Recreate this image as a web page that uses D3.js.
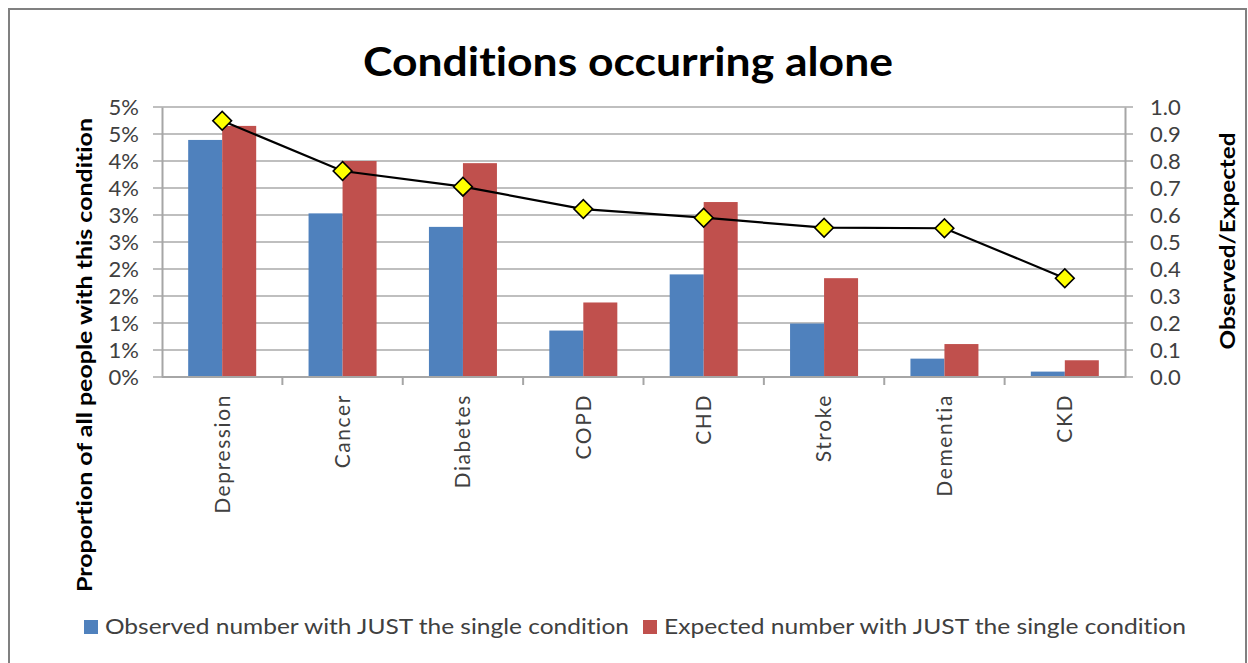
<!DOCTYPE html>
<html>
<head>
<meta charset="utf-8">
<script src="https://cdn.jsdelivr.net/npm/d3@7"></script>
<style>
  body { margin: 0; background: #fff; }
  text { font-family: Lato, "Open Sans", sans-serif; font-variant-ligatures: none; }
</style>
</head>
<body>
<div id="chart"></div>
<script>
// values
const categories = ["Depression", "Cancer", "Diabetes", "COPD", "CHD", "Stroke", "Dementia", "CKD"];
const observed = [4.39, 3.03, 2.78, 0.86, 1.90, 0.99, 0.34, 0.10];   // % of all people
const expected = [4.65, 4.00, 3.96, 1.38, 3.24, 1.83, 0.61, 0.31];
const ratio = [0.949, 0.763, 0.705, 0.622, 0.590, 0.553, 0.551, 0.366]; // observed/expected

const leftTickValues = [0, 0.5, 1, 1.5, 2, 2.5, 3, 3.5, 4, 4.5, 5];
const leftTickLabels = ["0%", "1%", "1%", "2%", "2%", "3%", "3%", "4%", "4%", "5%", "5%"];
const rightTickValues = [0, 0.1, 0.2, 0.3, 0.4, 0.5, 0.6, 0.7, 0.8, 0.9, 1.0];
const rightTickLabels = ["0.0", "0.1", "0.2", "0.3", "0.4", "0.5", "0.6", "0.7", "0.8", "0.9", "1.0"];

const seriesNames = ["Observed number with JUST the single condition", "Expected number with JUST the single condition"];
const seriesColors = ["#4F81BD", "#C0504D"];

const W = 1248, H = 663;
const plot = { left: 162, right: 1125, top: 107, bottom: 377 };

const svg = d3.select("#chart")
  .append("svg")
  .attr("width", W)
  .attr("height", H);

// outer chart frame
svg.append("rect")
  .attr("x", 9).attr("y", 9)
  .attr("width", 1237).attr("height", 700)
  .attr("fill", "#fff")
  .attr("stroke", "#808080")
  .attr("stroke-width", 2);

const x0 = d3.scaleBand().domain(categories).range([plot.left, plot.right]);
const x1 = d3.scaleBand().domain([0, 1]).range([0, x0.bandwidth()]).paddingOuter(0.77);
const y = d3.scaleLinear().domain([0, 5]).range([plot.bottom, plot.top]);
const y2 = d3.scaleLinear().domain([0, 1]).range([plot.bottom, plot.top]);

// gridlines
svg.append("g")
  .selectAll("line")
  .data(leftTickValues)
  .join("line")
  .attr("x1", plot.left - 9).attr("x2", plot.right + 8)
  .attr("y1", d => y(d)).attr("y2", d => y(d))
  .attr("stroke", "#BFBFBF")
  .attr("stroke-width", 2);

// bars
const groups = svg.append("g")
  .selectAll("g")
  .data(categories)
  .join("g")
  .attr("transform", c => `translate(${x0(c)},0)`);

groups.selectAll("rect")
  .data((c, i) => [observed[i], expected[i]])
  .join("rect")
  .attr("x", (d, j) => x1(j))
  .attr("width", x1.bandwidth())
  .attr("y", d => y(d))
  .attr("height", d => y(0) - y(d))
  .attr("fill", (d, j) => seriesColors[j]);

// left axis
const leftAxis = svg.append("g")
  .attr("transform", `translate(${plot.left},0)`)
  .call(d3.axisLeft(y).tickValues(leftTickValues)
    .tickFormat((d, i) => leftTickLabels[i]).tickSize(0).tickPadding(23));
leftAxis.select(".domain").attr("stroke", "#A6A6A6").attr("stroke-width", 2);
leftAxis.selectAll("text").attr("font-size", 22).attr("fill", "#404040");

// right axis
const rightAxis = svg.append("g")
  .attr("transform", `translate(${plot.right},0)`)
  .call(d3.axisRight(y2).tickValues(rightTickValues)
    .tickFormat((d, i) => rightTickLabels[i]).tickSize(0).tickPadding(25));
rightAxis.select(".domain").attr("stroke", "#A6A6A6").attr("stroke-width", 2);
rightAxis.selectAll("text").attr("font-size", 22).attr("fill", "#404040");

// bottom axis line and tick marks at category boundaries
svg.append("line")
  .attr("x1", plot.left).attr("x2", plot.right)
  .attr("y1", plot.bottom).attr("y2", plot.bottom)
  .attr("stroke", "#A6A6A6").attr("stroke-width", 2);

svg.append("g")
  .selectAll("line")
  .data(categories.slice(1))
  .join("line")
  .attr("x1", c => x0(c)).attr("x2", c => x0(c))
  .attr("y1", plot.bottom).attr("y2", plot.bottom + 8)
  .attr("stroke", "#A6A6A6").attr("stroke-width", 2);

// category labels
svg.append("g")
  .selectAll("text")
  .data(categories)
  .join("text")
  .attr("transform", c => `translate(${x0(c) + x0.bandwidth() / 2},394) rotate(-90)`)
  .attr("text-anchor", "end")
  .attr("dy", "0.35em")
  .attr("font-size", 21)
  .attr("letter-spacing", 1.6)
  .attr("fill", "#404040")
  .text(c => c);

// observed/expected line
const line = d3.line()
  .x((d, i) => x0(categories[i]) + x0.bandwidth() / 2)
  .y(d => y2(d));

svg.append("path")
  .datum(ratio)
  .attr("fill", "none")
  .attr("stroke", "#000")
  .attr("stroke-width", 2.2)
  .attr("d", line);

svg.append("g")
  .selectAll("path")
  .data(ratio)
  .join("path")
  .attr("transform", (d, i) => `translate(${x0(categories[i]) + x0.bandwidth() / 2},${y2(d)}) rotate(45)`)
  .attr("d", d3.symbol(d3.symbolSquare, 175))
  .attr("fill", "#FFFF00")
  .attr("stroke", "#000")
  .attr("stroke-width", 1.6);

// title
svg.append("text")
  .attr("x", 628).attr("y", 76)
  .attr("text-anchor", "middle")
  .attr("font-size", 40)
  .attr("font-weight", "bold")
  .attr("textLength", 530)
  .attr("lengthAdjust", "spacingAndGlyphs")
  .attr("fill", "#000")
  .text("Conditions occurring alone");

// axis titles
svg.append("text")
  .attr("transform", "translate(85,355) rotate(-90)")
  .attr("text-anchor", "middle")
  .attr("dy", "0.35em")
  .attr("font-size", 20)
  .attr("font-weight", "bold")
  .attr("textLength", 474)
  .attr("lengthAdjust", "spacingAndGlyphs")
  .text("Proportion  of all people with this condition");

svg.append("text")
  .attr("transform", "translate(1228,241) rotate(-90)")
  .attr("text-anchor", "middle")
  .attr("dy", "0.35em")
  .attr("font-size", 20)
  .attr("font-weight", "bold")
  .attr("textLength", 217)
  .attr("lengthAdjust", "spacingAndGlyphs")
  .text("Observed/Expected");

// legend
const legendX = [84, 643];
const legendTextLen = [524, 522];
const legend = svg.append("g")
  .selectAll("g")
  .data(seriesNames)
  .join("g")
  .attr("transform", (d, i) => `translate(${legendX[i]},620)`);

legend.append("rect")
  .attr("width", 14).attr("height", 14)
  .attr("fill", (d, i) => seriesColors[i]);

legend.append("text")
  .attr("x", 21).attr("y", 7)
  .attr("dy", "0.35em")
  .attr("font-size", 21)
  .attr("fill", "#404040")
  .attr("textLength", (d, i) => legendTextLen[i])
  .attr("lengthAdjust", "spacingAndGlyphs")
  .text(d => d);
</script>
</body>
</html>
